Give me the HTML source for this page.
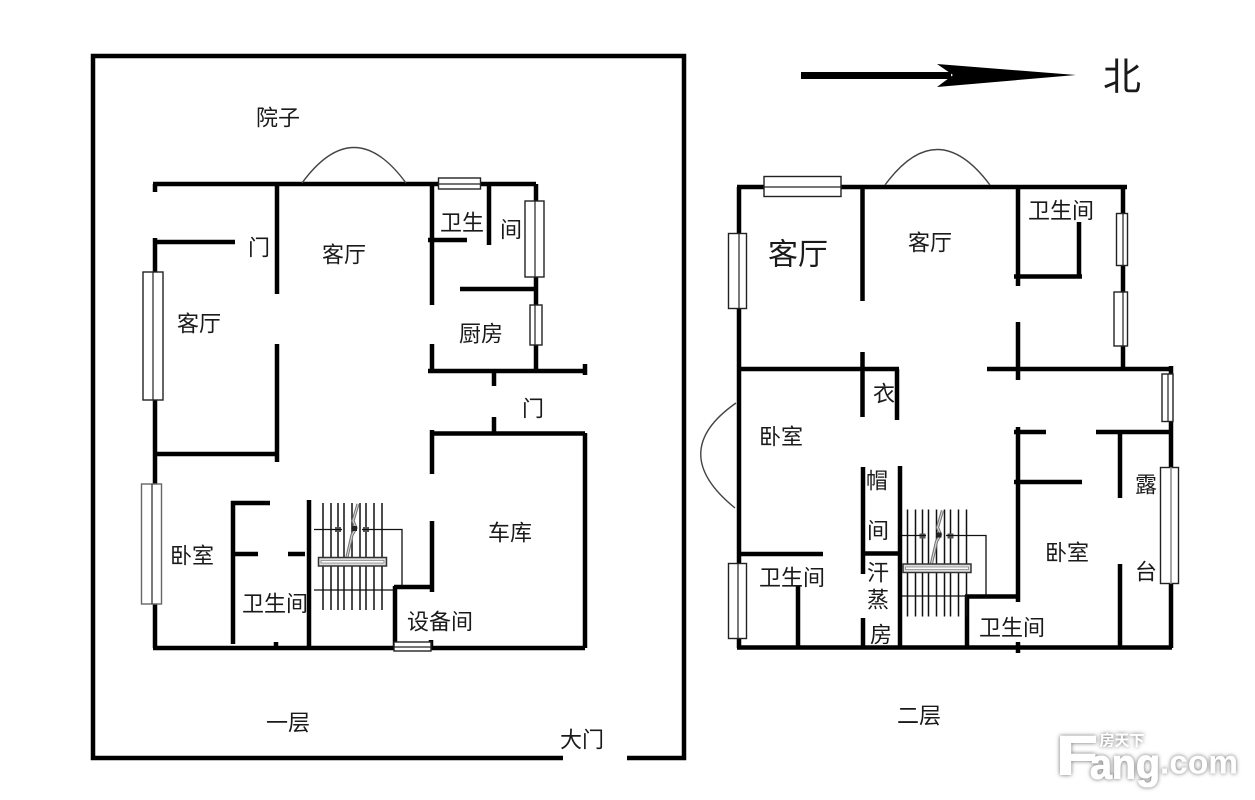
<!DOCTYPE html>
<html lang="zh">
<head>
<meta charset="utf-8">
<title>Floor plan</title>
<style>
html,body{margin:0;padding:0;background:#fff;width:1255px;height:800px;overflow:hidden}
svg{display:block}
text{font-family:"Liberation Sans","Noto Sans CJK SC",sans-serif;fill:#1a1a1a;text-anchor:middle;dominant-baseline:central}
.w{fill:none;stroke:#000;stroke-width:4.5;stroke-linecap:butt}
.win{fill:#fff;stroke:#222;stroke-width:1.4}
.winl{stroke:#222;stroke-width:1.2;fill:none}
.arc{fill:none;stroke:#444;stroke-width:1.4}
.thin{fill:none;stroke:#111;stroke-width:1.3}
.st{fill:none;stroke:#111;stroke-width:1.5}
.l{font-size:22px}
</style>
</head>
<body>
<svg width="1255" height="800" viewBox="0 0 1255 800" xmlns="http://www.w3.org/2000/svg">
<defs>
<filter id="sh" x="-10%" y="-20%" width="120%" height="140%"><feDropShadow dx="0" dy="0" stdDeviation="2.200" flood-color="#666" flood-opacity="1"/></filter>
</defs>

<!-- outer yard -->
<path d="M563 758H93V56H684V758H627" fill="none" stroke="#000" stroke-width="4.5"/>

<!-- arrow -->
<rect x="801" y="72" width="150" height="7" fill="#000"/>
<polygon points="937,64 1076,75 937,87 953,75" fill="#000"/>

<!-- floor 1 walls -->
<path class="w" d="M153 184H536
M155 184V192
M277 184V294 M277 344V462
M153 242H235
M155 238V272 M155 400V484 M155 604V648
M153 454H277
M153 648H585
M233 501V644 M231 503H270 M233 554H258 M288 554H305
M276 642V648
M309 500V648
M432 184V305 M432 344V373
M489 184V245 M428 240H467
M536 184V370 M460 289H536
M428 371H586 M585 364V375
M494 369V386 M494 417V433
M432 433.500H585 M432 430V474 M432 521V592 M585 433V648
M394 587H434 M395 586V648 M431 640V648"/>

<!-- floor 1 arc door -->
<path class="arc" d="M302 183Q354 112 406 183"/>

<!-- floor 1 windows -->
<rect class="win" x="143" y="272" width="20" height="128"/><path class="winl" d="M153 272V400"/>
<rect class="win" x="141.500" y="484" width="20" height="120" style="stroke:#666"/><path class="winl" d="M152 484V604"/>
<rect class="win" x="438.500" y="178" width="42" height="11"/><path class="winl" d="M438 184H481"/>
<rect class="win" x="525" y="201" width="19" height="76"/><path class="winl" d="M535 201V277"/>
<rect class="win" x="530" y="305" width="12" height="40"/><path class="winl" d="M535 305V345"/>
<rect class="win" x="394" y="642" width="37" height="9"/><path class="winl" d="M394 647H431"/>

<!-- floor 1 stair -->
<g id="stair">
<path class="st" d="M323 503V610M331 503V610M338 503V610M344 503V610M352 503V610M360 503V610M366 503V610M374 503V610M382 503V610"/>
<path d="M347 557L352 535L356 528L353 521L358 504" fill="none" stroke="#777" stroke-width="3.200"/>
<path d="M347 557L352 535L356 528L353 521L358 504" fill="none" stroke="#ddd" stroke-width="1"/>
<rect x="318.500" y="557.500" width="68" height="8.500" fill="#ddd" stroke="#333" stroke-width="1.500"/>
<rect x="321" y="560.500" width="63" height="2.500" fill="#fff" stroke="#666" stroke-width=".6"/>
<rect x="335" y="527" width="6" height="5" fill="#555"/><rect x="363" y="527" width="6" height="5" fill="#555"/>
<rect x="352" y="526" width="5" height="5" fill="#222"/>
</g>
<path class="thin" d="M314 529.500H342 M362 529.500H402V586 M314 590H394"/>

<!-- floor 2 walls -->
<path class="w" d="M737 187H1127
M739 187V648
M862.500 187V301 M862.500 352V417
M1018 187V286 M1018 322V380
M1014 276.500H1082 M1079 222V276
M1123 187V369
M737 369H899 M897 369V420
M987 369H1172
M863 467V574 M861 553.500H902 M863 618V648
M900 466V646
M737 554H823 M798 585V648
M737 647.500H1172
M967 595V648 M965 596.500H1018
M1018 427V602 M1014 432H1046 M1096 432H1171 M1014 482H1082
M1120 432V498 M1120 564V648
M1171 366V648 M1018 642V653"/>

<!-- floor 2 arcs -->
<path class="arc" d="M885 185Q937 114 990 185"/>
<path class="arc" d="M736 403Q666 452 735 508"/>

<!-- floor 2 windows -->
<rect class="win" x="764" y="176.500" width="77" height="20"/><path class="winl" d="M764 187H841"/>
<rect class="win" x="728.500" y="233.500" width="18" height="75"/><path class="winl" d="M739 233V309"/>
<rect class="win" x="728.500" y="563.500" width="18" height="75"/><path class="winl" d="M738 563V639"/>
<rect class="win" x="1116.500" y="213.500" width="11" height="52"/><path class="winl" d="M1123 213V266"/>
<rect class="win" x="1114" y="292" width="13.500" height="54"/><path class="winl" d="M1123 292V346"/>
<rect class="win" x="1162" y="374" width="11" height="47.500"/><path class="winl" d="M1168 374V422"/>
<rect class="win" x="1160.500" y="467.500" width="18" height="116"/><path d="M1171 467V584" stroke="#888" stroke-width="1.500"/>

<!-- floor 2 stair -->
<use href="#stair" transform="translate(584.500 6.500)"/>
<path class="thin" d="M902 535.500H926 M946 535.500H986V595 M902 596H967"/>

<g transform="translate(0 1)">
<!-- labels floor 1 -->
<text class="l" x="278" y="117">院子</text>
<text class="l" x="259" y="247">门</text>
<text class="l" x="344" y="254">客厅</text>
<text class="l" x="199" y="323">客厅</text>
<text class="l" x="462" y="222">卫生</text>
<text class="l" x="511" y="229">间</text>
<text class="l" x="481" y="333">厨房</text>
<text class="l" x="533" y="408">门</text>
<text class="l" x="510" y="532">车库</text>
<text class="l" x="192" y="555">卧室</text>
<text class="l" x="275" y="603">卫生间</text>
<text class="l" x="440" y="621">设备间</text>
<text class="l" x="288" y="722">一层</text>
<text class="l" x="582" y="739">大门</text>

<!-- labels floor 2 -->
<text x="798" y="254" style="font-size:30px">客厅</text>
<text class="l" x="930" y="242">客厅</text>
<text class="l" x="1061" y="210">卫生间</text>
<text class="l" x="884" y="393">衣</text>
<text class="l" x="781" y="436">卧室</text>
<text class="l" x="877" y="480">帽</text>
<text class="l" x="878" y="530">间</text>
<text class="l" x="878" y="572">汗</text>
<text class="l" x="878" y="599">蒸</text>
<text class="l" x="881" y="634">房</text>
<text class="l" x="792" y="577">卫生间</text>
<text class="l" x="1146" y="484">露</text>
<text class="l" x="1146" y="571">台</text>
<text class="l" x="1067" y="552">卧室</text>
<text class="l" x="1012" y="627">卫生间</text>
<text class="l" x="919" y="715">二层</text>
<text x="1122" y="77" style="font-size:38px">北</text>
</g>

<!-- watermark -->
<g filter="url(#sh)">
<text x="1056" y="755" textLength="42" lengthAdjust="spacingAndGlyphs" style="font:bold 56px 'Liberation Sans',sans-serif;fill:#fff;text-anchor:start;stroke:#fff;stroke-width:1">F</text>
<text x="1090" y="764" textLength="70" lengthAdjust="spacingAndGlyphs" style="font:bold 42px 'Liberation Sans',sans-serif;fill:#fff;text-anchor:start;stroke:#fff;stroke-width:1">ang</text>
<text x="1160" y="762" textLength="78" lengthAdjust="spacingAndGlyphs" style="font:bold 33px 'Liberation Sans',sans-serif;fill:#fff;text-anchor:start">.com</text>
<text x="1122" y="741" style="font-size:15px;fill:#fff;font-weight:bold;text-anchor:middle">房天下</text>
</g>
</svg>
</body>
</html>
